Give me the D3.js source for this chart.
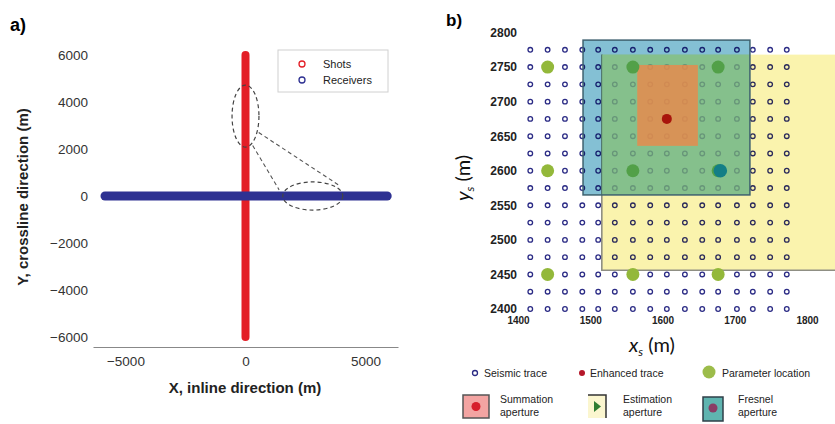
<!DOCTYPE html>
<html>
<head>
<meta charset="utf-8">
<script src="https://cdn.jsdelivr.net/npm/d3@7/dist/d3.min.js"></script>
<style>
  html, body { margin: 0; padding: 0; background: #fff; }
  svg { display: block; font-family: "Liberation Sans", Arial, sans-serif; }
</style>
</head>
<body>
<svg id="fig" width="835" height="424"></svg>
<script>
// ---------- Panel a: acquisition geometry ----------
const shotExtentY = [-6000, 6000];        // shots along the crossline (x = 0)
const receiverExtentX = [-5850, 5900];    // receivers along the inline (y = 0)
const aTicksX = [-5000, 0, 5000];
const aTicksY = [6000, 4000, 2000, 0, -2000, -4000, -6000];
const aLegend = ["Shots", "Receivers"];

// ---------- Panel b: midpoint grid ----------
const gridX = [1417, 1441, 1465, 1489, 1511, 1534, 1559, 1583, 1606, 1631, 1655, 1677, 1703, 1725, 1749, 1772];
const gridY = [2775, 2750, 2725, 2700, 2675, 2650, 2625, 2600, 2575, 2550, 2525, 2500, 2475, 2450, 2425, 2400];
const paramX = [1441, 1559, 1677];
const paramY = [2750, 2600, 2450];
const enhancedTrace = [1606, 2675];
const focusParam = [1680, 2600];
const bTicksX = [1400, 1500, 1600, 1700, 1800];
const bTicksY = [2800, 2750, 2700, 2650, 2600, 2550, 2500, 2450, 2400];
// apertures as [x0, x1, y0, y1]
const estimationAperture = [1516, 1850, 2456, 2768];
const fresnelAperture = [1490, 1721, 2565, 2789];
const summationAperture = [1565, 1649, 2636, 2753];
const bLegendTop = ["Seismic trace", "Enhanced trace", "Parameter location"];
const bLegendBottom = [["Summation", "aperture"], ["Estimation", "aperture"], ["Fresnel", "aperture"]];

const svg = d3.select("#fig");

// ===== Panel a =====
const xa = d3.scaleLinear().domain([-6350, 6350]).range([93, 398]);
const ya = d3.scaleLinear().domain([-6000, 6000]).range([337, 55]);
const gA = svg.append("g");

gA.append("text").attr("x", 10).attr("y", 31)
  .attr("font-size", 18).attr("font-weight", "bold").text("a)");

const axA = gA.append("g").attr("transform", "translate(0,347)")
  .call(d3.axisBottom(xa).tickValues(aTicksX).tickSize(0).tickPadding(9)
    .tickFormat(d3.format("d")));
axA.select(".domain").attr("stroke", "#888").attr("stroke-width", 1.2);
axA.selectAll("text").attr("font-size", 13.5).attr("fill", "#333").attr("font-family", "Liberation Sans, Arial");

const ayA = gA.append("g").attr("transform", "translate(93,0)")
  .call(d3.axisLeft(ya).tickValues(aTicksY).tickSize(0).tickPadding(5)
    .tickFormat(d3.format("d")));
ayA.select(".domain").remove();
ayA.selectAll("text").attr("font-size", 13.5).attr("fill", "#333").attr("font-family", "Liberation Sans, Arial");

// shots
gA.append("line")
  .attr("x1", xa(0)).attr("x2", xa(0))
  .attr("y1", ya(shotExtentY[0])).attr("y2", ya(shotExtentY[1]))
  .attr("stroke", "#e31e26").attr("stroke-width", 8).attr("stroke-linecap", "round");
// receivers
gA.append("line")
  .attr("x1", xa(receiverExtentX[0])).attr("x2", xa(receiverExtentX[1]))
  .attr("y1", ya(0)).attr("y2", ya(0))
  .attr("stroke", "#2e3192").attr("stroke-width", 9).attr("stroke-linecap", "round");

// zoom annotation
const dash = "4,3";
gA.append("ellipse").attr("cx", xa(0)).attr("cy", ya(3400))
  .attr("rx", xa(560) - xa(0)).attr("ry", ya(0) - ya(1320))
  .attr("fill", "none").attr("stroke", "#444").attr("stroke-width", 1.2).attr("stroke-dasharray", dash);
gA.append("ellipse").attr("cx", xa(2800)).attr("cy", ya(0))
  .attr("rx", xa(1250) - xa(0)).attr("ry", ya(0) - ya(600))
  .attr("fill", "none").attr("stroke", "#444").attr("stroke-width", 1.2).attr("stroke-dasharray", dash);
[[[550, 2700], [3950, 420]], [[300, 2150], [1400, 260]]].forEach(([p, q]) => {
  gA.append("line").attr("x1", xa(p[0])).attr("y1", ya(p[1]))
    .attr("x2", xa(q[0])).attr("y2", ya(q[1]))
    .attr("stroke", "#555").attr("stroke-width", 1.1).attr("stroke-dasharray", dash);
});

// legend
const lgA = gA.append("g");
lgA.append("rect").attr("x", 278).attr("y", 50).attr("width", 110).attr("height", 42)
  .attr("fill", "#fff").attr("stroke", "#d0d0d0");
aLegend.forEach((t, i) => {
  lgA.append("circle").attr("cx", 302).attr("cy", 64 + i * 16).attr("r", 3)
    .attr("fill", "none").attr("stroke", i === 0 ? "#e31e26" : "#2e3192").attr("stroke-width", 1.3);
  lgA.append("text").attr("x", 323).attr("y", 68 + i * 16).attr("font-size", 11)
    .attr("fill", "#222").text(t);
});

// axis titles
gA.append("text").attr("x", 245).attr("y", 393).attr("text-anchor", "middle")
  .attr("font-size", 15).attr("font-weight", "bold").attr("fill", "#222")
  .text("X, inline direction (m)");
gA.append("text").attr("transform", "translate(28,197) rotate(-90)").attr("text-anchor", "middle")
  .attr("font-size", 15).attr("font-weight", "bold").attr("fill", "#222")
  .text("Y, crossline direction (m)");

// ===== Panel b =====
const xb = d3.scaleLinear().domain([1400, 1800]).range([518, 807]);
const yb = d3.scaleLinear().domain([2400, 2800]).range([309, 32.5]);
const gB = svg.append("g");

gB.append("text").attr("x", 446).attr("y", 26)
  .attr("font-size", 17).attr("font-weight", "bold").text("b)");

const defs = svg.append("defs");
defs.append("clipPath").attr("id", "clipB").append("rect")
  .attr("x", 440).attr("y", 0).attr("width", 395).attr("height", 330);

const plotB = gB.append("g").attr("clip-path", "url(#clipB)");

// seismic traces
const cells = [];
gridY.forEach(gy => gridX.forEach(gx => cells.push([gx, gy])));
plotB.append("g").selectAll("circle").data(cells).join("circle")
  .attr("cx", d => xb(d[0])).attr("cy", d => yb(d[1])).attr("r", 2.3)
  .attr("fill", "none").attr("stroke", "#2b2b85").attr("stroke-width", 1.3);

const apRect = (g, a) => g.append("rect")
  .attr("x", xb(a[0])).attr("y", yb(a[3]))
  .attr("width", xb(a[1]) - xb(a[0])).attr("height", yb(a[2]) - yb(a[3]));
const inside = (p, a) => p[0] >= a[0] && p[0] <= a[1] && p[1] >= a[2] && p[1] <= a[3];

// estimation aperture
apRect(plotB, estimationAperture).attr("fill", "#faf3ad").style("mix-blend-mode", "multiply");
plotB.append("path")
  .attr("d", `M${xb(estimationAperture[0])},${yb(estimationAperture[3])}V${yb(estimationAperture[2])}H${xb(estimationAperture[1])}`)
  .attr("fill", "none").attr("stroke", "#8f8f84").attr("stroke-width", 1.6);
// fresnel aperture, with its overlap on the estimation aperture tinted green
apRect(plotB, fresnelAperture).attr("fill", "#84c0d4").style("mix-blend-mode", "multiply");
const overlap = [
  Math.max(fresnelAperture[0], estimationAperture[0]), Math.min(fresnelAperture[1], estimationAperture[1]),
  Math.max(fresnelAperture[2], estimationAperture[2]), Math.min(fresnelAperture[3], estimationAperture[3])
];
apRect(plotB, overlap).attr("fill", "#86c38a").attr("opacity", 0.72);
apRect(plotB, fresnelAperture).attr("fill", "none").attr("stroke", "#3f6270").attr("stroke-width", 1.5);
// summation aperture
apRect(plotB, summationAperture).attr("fill", "#ee8748").attr("opacity", 0.78);

// parameter locations (darker where they sit inside the shaded overlap)
const params = [];
paramY.forEach(py => paramX.forEach(px => params.push([px, py])));
plotB.append("g").selectAll("circle").data(params).join("circle")
  .attr("cx", d => xb(d[0])).attr("cy", d => yb(d[1])).attr("r", 6.5)
  .attr("fill", d => inside(d, overlap) ? "#52a048" : "#93b83a");

// enhanced trace and highlighted parameter location
plotB.append("circle").attr("cx", xb(enhancedTrace[0])).attr("cy", yb(enhancedTrace[1]))
  .attr("r", 5).attr("fill", "#a8150c");
plotB.append("circle").attr("cx", xb(focusParam[0])).attr("cy", yb(focusParam[1]))
  .attr("r", 6.8).attr("fill", "#137e86");

// axes
const axB = gB.append("g").attr("transform", "translate(0,312)")
  .call(d3.axisBottom(xb).tickValues(bTicksX).tickSize(0).tickPadding(5).tickFormat(d3.format("d")));
axB.select(".domain").remove();
axB.selectAll("text").attr("font-size", 10).attr("fill", "#222").attr("font-weight", "bold");

const ayB = gB.append("g").attr("transform", "translate(518,0)")
  .call(d3.axisLeft(yb).tickValues(bTicksY).tickSize(0).tickPadding(1).tickFormat(d3.format("d")));
ayB.select(".domain").remove();
ayB.selectAll("text").attr("font-size", 12).attr("fill", "#222").attr("font-weight", "bold");

// axis titles
const xt = gB.append("text").attr("x", 652).attr("y", 352).attr("text-anchor", "middle")
  .attr("font-size", 20).attr("fill", "#111").attr("font-family", "Lato, 'Open Sans', sans-serif");
xt.append("tspan").attr("font-style", "italic").text("x");
xt.append("tspan").attr("font-size", 12).attr("dy", 4).attr("font-style", "italic").text("s");
xt.append("tspan").attr("dy", -4).text(" (m)");

const yt = gB.append("text").attr("transform", "translate(470,178) rotate(-90)").attr("text-anchor", "middle")
  .attr("font-size", 20).attr("fill", "#111").attr("font-family", "Lato, 'Open Sans', sans-serif");
yt.append("tspan").attr("font-style", "italic").text("y");
yt.append("tspan").attr("font-size", 12).attr("dy", 4).attr("font-style", "italic").text("s");
yt.append("tspan").attr("dy", -4).text(" (m)");

// legend
const lgB = gB.append("g").attr("font-size", 10.5).attr("fill", "#222");
lgB.append("circle").attr("cx", 475).attr("cy", 373).attr("r", 2.5)
  .attr("fill", "none").attr("stroke", "#2b2b85").attr("stroke-width", 1.3);
lgB.append("text").attr("x", 484).attr("y", 377).text(bLegendTop[0]);
lgB.append("circle").attr("cx", 582).attr("cy", 373).attr("r", 3).attr("fill", "#b5182a");
lgB.append("text").attr("x", 590).attr("y", 377).text(bLegendTop[1]);
lgB.append("circle").attr("cx", 709).attr("cy", 372).attr("r", 6.5).attr("fill", "#9cbc4a");
lgB.append("text").attr("x", 722).attr("y", 377).text(bLegendTop[2]);

// aperture legend icons
lgB.append("rect").attr("x", 463).attr("y", 395).attr("width", 26).attr("height", 23)
  .attr("fill", "#f3a4a2").attr("stroke", "#555").attr("stroke-width", 1.5);
lgB.append("circle").attr("cx", 476).attr("cy", 406.5).attr("r", 4.5).attr("fill", "#d61f2c");
lgB.append("rect").attr("x", 588).attr("y", 395).attr("width", 18).attr("height", 23)
  .attr("fill", "#fbf6cf");
lgB.append("path").attr("d", "M588,395H606V418").attr("fill", "none")
  .attr("stroke", "#333").attr("stroke-width", 1.5);
lgB.append("path").attr("d", "M594,401L601,406.5L594,412Z").attr("fill", "#2f7d32");
lgB.append("rect").attr("x", 703).attr("y", 397).attr("width", 20).attr("height", 24)
  .attr("fill", "#5fb4b0").attr("stroke", "#2f3f48").attr("stroke-width", 1.5);
lgB.append("circle").attr("cx", 713).attr("cy", 408).attr("r", 4.5).attr("fill", "#8a3c66");

[500, 623, 738].forEach((x, i) => {
  const t = lgB.append("text").attr("x", x).attr("y", 403);
  t.append("tspan").attr("x", x).text(bLegendBottom[i][0]);
  t.append("tspan").attr("x", x).attr("dy", 13).text(bLegendBottom[i][1]);
});
</script>
</body>
</html>
